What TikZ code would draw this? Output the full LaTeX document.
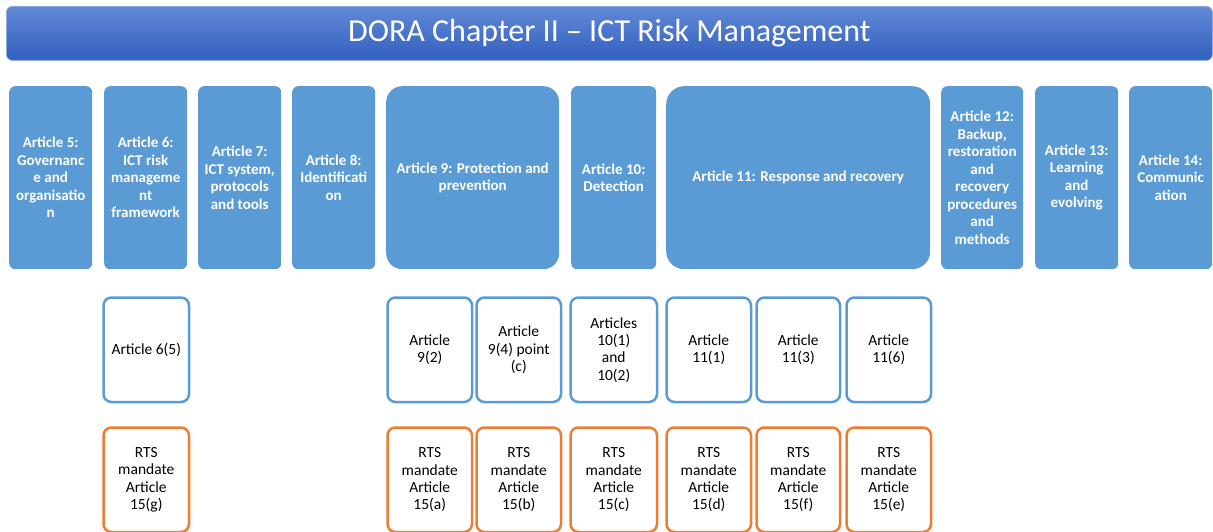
\documentclass[tikz,border=0pt]{standalone}
\usepackage{fontspec}
\setmainfont{Carlito}
\definecolor{topblue}{HTML}{5B9BD5}
\definecolor{midblue}{HTML}{5B9BD5}
\definecolor{rtsorange}{HTML}{ED7D31}
\definecolor{titletop}{HTML}{6189D5}
\definecolor{titlebot}{HTML}{325FC0}
\definecolor{titleedge}{HTML}{8FAADC}
\begin{document}
\begin{tikzpicture}[x=1pt,y=-1pt,
  titlebar/.style={rectangle, rounded corners=6pt, top color=titletop, bottom color=titlebot, draw=titleedge, line width=0.8pt, text=white, font=\fontsize{32}{38}\selectfont, anchor=north west, inner sep=0pt},
  artbox/.style={rectangle, rounded corners=6pt, fill=topblue, text=white, font=\fontsize{15}{17.5}\selectfont\bfseries, align=center, anchor=north west, inner sep=0pt, minimum height=183pt},
  refbox/.style={rectangle, rounded corners=8pt, draw=midblue, line width=2.5pt, fill=white, text=black, font=\fontsize{15.5}{17.3}\selectfont, align=center, anchor=north west, inner sep=0pt, minimum height=104.5pt, minimum width=84.5pt},
  rtsbox/.style={refbox, draw=rtsorange}
]
\useasboundingbox (0,0) rectangle (1213,532);
\node[titlebar, minimum width=1206pt, minimum height=54pt] (title) at (6,6) {DORA Chapter II -- ICT Risk Management};

\node[artbox, minimum width=83pt] (a5) at (9,86) {Article 5:\\Governanc\\e and\\organisatio\\n};
\node[artbox, minimum width=83pt] (a6) at (104,86) {Article 6:\\ICT risk\\manageme\\nt\\framework};
\node[artbox, minimum width=83pt] (a7) at (198,86) {Article 7:\\ICT system,\\protocols\\and tools};
\node[artbox, minimum width=83pt] (a8) at (292,86) {Article 8:\\Identificati\\on};
\node[artbox, minimum width=173pt, rounded corners=16pt] (a9) at (386,86) {Article 9: Protection and\\prevention};
\node[artbox, minimum width=85pt] (a10) at (571,86) {Article 10:\\Detection};
\node[artbox, minimum width=264pt, rounded corners=18pt] (a11) at (666,86) {Article 11: Response and recovery};
\node[artbox, minimum width=82pt] (a12) at (941,86) {Article 12:\\Backup,\\restoration\\and\\recovery\\procedures\\and\\methods};
\node[artbox, minimum width=83pt] (a13) at (1035,86) {Article 13:\\Learning\\and\\evolving};
\node[artbox, minimum width=83pt] (a14) at (1129,86) {Article 14:\\Communic\\ation};

\node[refbox, minimum width=85.5pt] (r65) at (102.25,296.25) {Article 6(5)};
\node[refbox] (r92) at (386.25,296.25) {Article\\9(2)};
\node[refbox] (r94) at (475.25,296.25) {Article\\9(4) point\\(c)};
\node[refbox, minimum width=86.5pt] (r10) at (569.25,296.25) {Articles\\10(1)\\and\\10(2)};
\node[refbox] (r111) at (665.25,296.25) {Article\\11(1)};
\node[refbox, minimum width=83.5pt] (r113) at (755.25,296.25) {Article\\11(3)};
\node[refbox] (r116) at (845.25,296.25) {Article\\11(6)};

\node[rtsbox, minimum width=85.5pt] (s65) at (102.25,426.25) {RTS\\mandate\\Article\\15(g)};
\node[rtsbox] (s92) at (386.25,426.25) {RTS\\mandate\\Article\\15(a)};
\node[rtsbox] (s94) at (475.25,426.25) {RTS\\mandate\\Article\\15(b)};
\node[rtsbox, minimum width=86.5pt] (s10) at (569.25,426.25) {RTS\\mandate\\Article\\15(c)};
\node[rtsbox] (s111) at (665.25,426.25) {RTS\\mandate\\Article\\15(d)};
\node[rtsbox, minimum width=83.5pt] (s113) at (755.25,426.25) {RTS\\mandate\\Article\\15(f)};
\node[rtsbox] (s116) at (845.25,426.25) {RTS\\mandate\\Article\\15(e)};
\end{tikzpicture}
\end{document}
